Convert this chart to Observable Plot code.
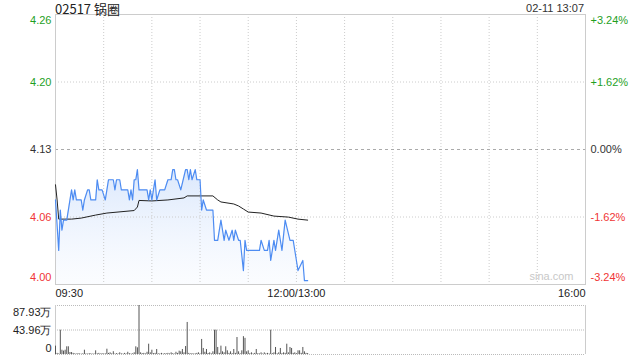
<!DOCTYPE html>
<html>
<head>
<meta charset="utf-8">
<script src="https://cdn.jsdelivr.net/npm/d3@7"></script>
<script src="https://cdn.jsdelivr.net/npm/@observablehq/plot@0.6"></script>
<style>
  html, body { margin: 0; padding: 0; background: #fff; }
  #wrap { position: relative; width: 640px; height: 360px; overflow: hidden; font-family: "Liberation Sans", Arial, sans-serif; }
  #title { position: absolute; left: 55px; top: 1px; font: 13px/15px "Noto Sans CJK SC", "Liberation Sans", sans-serif; color: #222; white-space: nowrap; }
  #stamp { position: absolute; right: 56px; top: 1px; font: 11px/14px "Liberation Sans", Arial, sans-serif; color: #333; white-space: nowrap; }
  #main, #vol { position: absolute; left: 0; }
  #main { top: 0; }
  #vol { top: 300px; }
</style>
</head>
<body>
<div id="wrap">
  <div id="main"></div>
  <div id="vol"></div>
  <div id="title">02517 锅圈</div>
  <div id="stamp">02-11 13:07</div>
</div>
<script>
// ---- data ----
const prevClose = 4.13;
const pctSteps = [3.24, 1.62, 0, -1.62, -3.24];
const priceLabels = ["4.26", "4.20", "4.13", "4.06", "4.00"];
const pctLabels = ["+3.24%", "+1.62%", "0.00%", "-1.62%", "-3.24%"];
const xTickMinutes = [0, 150, 330];
const xTickLabels = ["09:30", "12:00/13:00", "16:00"];
const gridMinutes = [30, 60, 90, 120, 150, 180, 210, 240, 270, 300];

// minute index from 09:30 (lunch break removed) and price
const priceMin = [0,2,3,4,5,7,8,10,11,12,13,16,17,18,20,21,22,25,26,27,29,31,32,33,36,37,38,40,41,45,46,47,48,49,50,51,52,57,58,59,60,62,63,65,68,70,72,73,74,75,76,78,81,82,83,84,85,87,88,90,91,92,94,98,99,101,102,103,105,106,108,110,111,112,114,115,117,118,119,127,128,130,132,133,134,136,137,139,141,143,146,148,150,151,154,155,157];
const priceVal = [4.08,4.03,4.07,4.05,4.06,4.06,4.07,4.09,4.08,4.09,4.08,4.08,4.07,4.08,4.09,4.09,4.08,4.08,4.10,4.09,4.09,4.08,4.09,4.10,4.10,4.09,4.10,4.10,4.09,4.09,4.08,4.09,4.08,4.10,4.10,4.11,4.09,4.09,4.08,4.09,4.08,4.10,4.08,4.09,4.09,4.10,4.10,4.11,4.11,4.10,4.10,4.09,4.11,4.11,4.10,4.11,4.10,4.11,4.10,4.10,4.07,4.08,4.07,4.07,4.04,4.04,4.05,4.06,4.04,4.05,4.04,4.05,4.04,4.05,4.04,4.04,4.01,4.04,4.03,4.03,4.04,4.03,4.03,4.04,4.02,4.04,4.03,4.05,4.03,4.06,4.04,4.04,4.02,4.01,4.02,4.00,4.00];

const avgMin = [0,1,2,10,16,25,32,49,51,52,60,70,80,82,98,101,103,111,114,117,120,128,136,145,151,157];
const avgVal = [4.095,4.080,4.061,4.061,4.062,4.065,4.067,4.0695,4.073,4.0795,4.079,4.080,4.082,4.084,4.084,4.080,4.078,4.076,4.074,4.071,4.068,4.067,4.064,4.063,4.061,4.060];

// volume per minute (shares), minutes 0..157
const volumes = [
  150000, 20000, 10000, 436000, 77000, 61000, 77000, 138000, 138000, 35000,
  35000, 20000, 12000, 8000, 15000, 10000, 6000, 12000, 77000, 10000,
  8000, 15000, 12000, 6000, 10000, 66000, 12000, 20000, 8000, 15000,
  10000, 12000, 95000, 20000, 30000, 12000, 50000, 8000, 15000, 10000,
  30000, 12000, 8000, 20000, 10000, 40000, 15000, 8000, 12000, 30000,
  138000, 120000, 879300, 30000, 15000, 20000, 10000, 40000, 185000, 30000,
  77000, 15000, 20000, 90000, 12000, 10000, 20000, 8000, 15000, 12000,
  20000, 10000, 30000, 15000, 8000, 40000, 20000, 60000, 48000, 90000,
  30000, 143000, 575000, 20000, 10000, 15000, 8000, 12000, 20000, 30000,
  10000, 270000, 108000, 40000, 90000, 18000, 30000, 12000, 48000, 436000,
  436000, 126000, 20000, 150000, 48000, 30000, 138000, 66000, 20000, 48000,
  15000, 90000, 20000, 305000, 48000, 12000, 66000, 320000, 290000, 48000,
  66000, 15000, 30000, 10000, 20000, 90000, 15000, 10000, 30000, 8000,
  30000, 12000, 20000, 10000, 436000, 15000, 30000, 126000, 12000, 30000,
  108000, 15000, 30000, 20000, 185000, 30000, 126000, 108000, 20000, 30000,
  15000, 66000, 66000, 20000, 126000, 48000, 20000, 18000
];
const volMax = 879300;
const volTicks = [879300, 439650, 0];
const volLabels = ["87.93万", "43.96万", "0"];

// ---- derived tables ----
const yTicks = pctSteps.map(p => prevClose * (1 + p / 100));
const yMin = yTicks[4], yMax = yTicks[0];
const priceData = priceMin.map((m, i) => ({m, p: priceVal[i]}));
const avgData = avgMin.map((m, i) => ({m, p: avgVal[i]}));
const volData = volumes.map((v, i) => ({m: i, v}));
const GREEN = "#1f9f1f", RED = "#f03535", DARK = "#333";
const tickColor = i => (i < 2 ? GREEN : i === 2 ? DARK : RED);
const FONT = "Liberation Sans, Arial, sans-serif";

function yLabelMarks(idx, dy) {
  return [
    Plot.text(idx, {x: () => 0, y: i => yTicks[i], text: i => priceLabels[i], fill: i => tickColor(i),
      textAnchor: "end", dx: -4, dy, fontSize: 11}),
    Plot.text(idx, {x: () => 330, y: i => yTicks[i], text: i => pctLabels[i], fill: i => tickColor(i),
      textAnchor: "start", dx: 5, dy, fontSize: 11})
  ];
}
function xLabelMark(i, anchor) {
  return Plot.text([i], {x: j => xTickMinutes[j], text: j => xTickLabels[j], frameAnchor: "bottom",
    textAnchor: anchor, dy: 12, fill: "#222", fontSize: 11});
}

const main = Plot.plot({
  width: 640, height: 304,
  marginLeft: 55, marginRight: 55, marginTop: 14, marginBottom: 20,
  style: {background: "transparent", fontFamily: FONT},
  x: {domain: [0, 330], axis: null},
  y: {domain: [yMin, yMax], axis: null},
  marks: [
    Plot.areaY(priceData, {x: "m", y1: () => yMin, y2: "p", fill: "url(#priceGrad)"}),
    Plot.ruleX(gridMinutes, {stroke: "#ccc", strokeDasharray: "1,2"}),
    Plot.ruleY([yTicks[1], yTicks[3]], {stroke: "#ccc", strokeDasharray: "1,2"}),
    Plot.ruleY([yTicks[2]], {stroke: "#aaa", strokeDasharray: "3,3"}),
    Plot.frame({stroke: "#ccc"}),
    Plot.text(["sina.com"], {frameAnchor: "bottom-right", dx: -12, dy: -5, fill: "#c8c8c8", fontSize: 11}),
    Plot.line(avgData, {x: "m", y: "p", stroke: "#222", strokeWidth: 1}),
    Plot.line(priceData, {x: "m", y: "p", stroke: "#4d8cf2", strokeWidth: 1.2}),
    ...yLabelMarks([0], 6),
    ...yLabelMarks([1, 2, 3], 0),
    ...yLabelMarks([4], -7),
    xLabelMark(0, "start"),
    xLabelMark(1, "middle"),
    xLabelMark(2, "end")
  ]
});
// gradient for the area
const defs = d3.select(main).insert("defs", ":first-child");
const grad = defs.append("linearGradient").attr("id", "priceGrad").attr("x1", 0).attr("y1", 0).attr("x2", 0).attr("y2", 1);
grad.append("stop").attr("offset", "0%").attr("stop-color", "#cfe0fb").attr("stop-opacity", 0.75);
grad.append("stop").attr("offset", "100%").attr("stop-color", "#eef4fe").attr("stop-opacity", 0.25);
document.getElementById("main").appendChild(main);

const vol = Plot.plot({
  width: 640, height: 60,
  marginLeft: 55, marginRight: 55, marginTop: 5, marginBottom: 6,
  style: {background: "transparent", fontFamily: FONT},
  x: {domain: [0, 330], axis: null},
  y: {domain: [0, volMax], axis: null},
  marks: [
    Plot.ruleY(volTicks, {stroke: "#bbb", strokeDasharray: "1,1"}),
    Plot.ruleX([0, 330], {stroke: "#ccc"}),
    Plot.ruleX(volData, {x: "m", y1: () => 0, y2: "v", stroke: "#555", strokeWidth: 1}),
    Plot.text([0], {x: () => 0, y: i => volTicks[i], text: i => volLabels[i], textAnchor: "end", dx: -4, dy: 7, fill: "#222", fontSize: 11}),
    Plot.text([1], {x: () => 0, y: i => volTicks[i], text: i => volLabels[i], textAnchor: "end", dx: -4, dy: 0, fill: "#222", fontSize: 11}),
    Plot.text([2], {x: () => 0, y: i => volTicks[i], text: i => volLabels[i], textAnchor: "end", dx: -4, dy: -6, fill: "#222", fontSize: 11})
  ]
});
document.getElementById("vol").appendChild(vol);
</script>
</body>
</html>
